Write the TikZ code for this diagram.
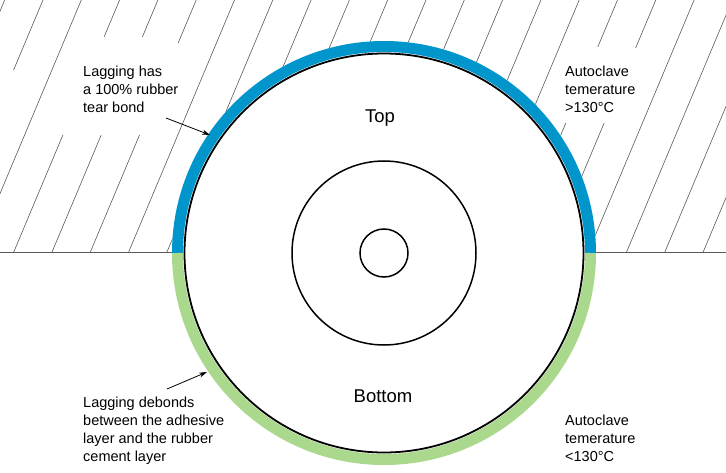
\documentclass[tikz,border=0pt]{standalone}
\usepackage{fontspec}
\setmainfont{Liberation Sans}
\usetikzlibrary{arrows.meta}
\definecolor{ringblue}{RGB}{0,150,204}
\definecolor{ringgreen}{RGB}{170,216,140}
\definecolor{hatchgray}{RGB}{90,90,90}
\begin{document}
\begin{tikzpicture}[x=1pt,y=-1pt,
  hatch/.style={draw=hatchgray,line width=0.6pt},
  ground/.style={draw=hatchgray,line width=1pt},
  lbl/.style={font=\fontsize{14.5}{18}\selectfont,align=left,anchor=north west,inner sep=0pt},
  side/.style={font=\fontsize{18.5}{22}\selectfont,inner sep=0pt,anchor=base},
  ring/.style={circle,draw=black,fill=white,inner sep=0pt},
  pointer/.style={-{Stealth[length=8pt,width=5pt]},line width=0.8pt,draw=black}]
\useasboundingbox (0,0) rectangle (726,473);
\fill[white] (0,0) rectangle (726,473);
% hatching of the upper half
\begin{scope}
  \clip (0,0) rectangle (726,253);
  \foreach \k/\ya/\yb in {-1/0/253, 0/0/70, 1/0/253, 2/0/37, 2/135/253, 3/0/37, 3/135/253,
      4/0/43, 4/135/253, 5/0/253, 6/0/253, 7/0/253, 8/0/253, 9/0/253, 10/0/253, 11/0/253,
      12/0/253, 13/0/253, 14/0/253, 15/0/47, 15/123/253, 16/0/48, 16/123/253, 17/0/253,
      18/0/253, 19/0/253, 20/0/253, 21/0/253}
    \draw[hatch] ({43+38.3*\k-0.42*\ya},\ya) -- ({43+38.3*\k-0.42*\yb},\yb);
\end{scope}
\draw[ground] (0,253) -- (726,253);
% drum
\node[circle,fill=white,draw=none,minimum size=424pt,inner sep=0pt] (drum) at (384,253) {};
\draw[ringblue,line width=11pt] (177.5,253) arc[start angle=180,end angle=360,radius=206.5];
\draw[ringgreen,line width=11pt] (590.5,253) arc[start angle=0,end angle=180,radius=206.5];
\node[ring,line width=1.8pt,minimum size=399pt] (shell) at (384,253) {};
\node[ring,line width=1.5pt,minimum size=184pt] (hub) at (384,253) {};
\node[ring,line width=1.5pt,minimum size=48pt] (shaft) at (384,253) {};
% labels
\node[side] (top) at (380,123) {Top};
\node[side] (bottom) at (383,402) {Bottom};
\node[lbl] (bondlbl) at (83,65.5) {Lagging has\\a 100\% rubber\\tear bond};
\node[lbl] (hotlbl) at (565,65.5) {Autoclave\\temerature\\>130°C};
\node[lbl] (debondlbl) at (83,396.5) {Lagging debonds\\between the adhesive\\layer and the rubber\\cement layer};
\node[lbl] (coldlbl) at (565,414.5) {Autoclave\\temerature\\<130°C};
% pointers
\coordinate (tailA) at (166,118);
\coordinate (tipA) at (210,135);
\coordinate (tailB) at (167,389);
\coordinate (tipB) at (207,372);
\draw[pointer] (tailA) -- (tipA);
\draw[pointer] (tailB) -- (tipB);
\end{tikzpicture}
\end{document}
